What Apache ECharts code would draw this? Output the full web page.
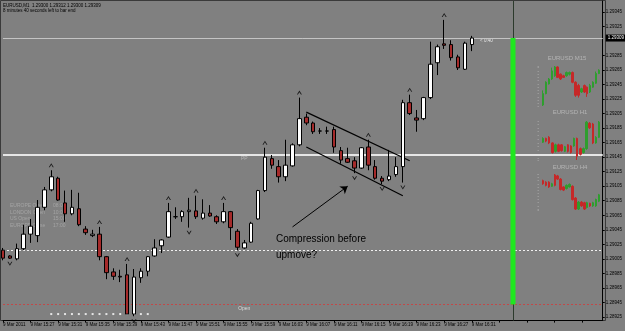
<!DOCTYPE html>
<html><head><meta charset="utf-8">
<script src="https://cdn.jsdelivr.net/npm/echarts@6/dist/echarts.min.js"></script>
<style>html,body{margin:0;padding:0;background:#808080}#c{width:625px;height:331px}</style>
</head><body><div id="c"></div>
<script>
// ---------- data ----------
const headerLine1 = 'EURUSD,M1  1.29300 1.29312 1.29300 1.29309';
const headerLine2 = '8 minutes 40 seconds left to bar end';
const timeTickLabels = ['9 Mar 2011','9 Mar 15:27','9 Mar 15:31','9 Mar 15:35','9 Mar 15:39','9 Mar 15:43','9 Mar 15:47','9 Mar 15:51','9 Mar 15:55','9 Mar 15:59','9 Mar 16:03','9 Mar 16:07','9 Mar 16:11','9 Mar 16:15','9 Mar 16:19','9 Mar 16:23','9 Mar 16:27','9 Mar 16:31'];
const slotCount = 88;
const yTickValues = [1.28925,1.28945,1.28965,1.28985,1.29005,1.29025,1.29045,1.29065,1.29085,1.29105,1.29125,1.29145,1.29165,1.29185,1.29205,1.29225,1.29245,1.29265,1.29285,1.29325,1.29345];
const opens  = [1.29017,1.29009,1.29005,1.29019,1.29039,1.29037,1.29076,1.29100,1.29116,1.29082,1.29067,1.29074,1.29046,1.29037,1.29039,1.29008,1.28987,1.28981,1.28983,1.28929,1.28979,1.28988,1.29009,1.29023,1.29035,1.29063,1.29063,1.29070,1.29071,1.29061,1.29068,1.29063,1.29056,1.29070,1.29043,1.29020,1.29028,1.29060,1.29099,1.29143,1.29132,1.29118,1.29133,1.29162,1.29200,1.29192,1.29181,1.29181,1.29183,1.29154,1.29143,1.29140,1.29130,1.29159,1.29132,1.29116,1.29114,1.29121,1.29132,1.29220,1.29199,1.29198,1.29227,1.29275,1.29301,1.29300,1.29283,1.29266,1.29300];
const closes = [1.29006,1.29006,1.29019,1.29039,1.29050,1.29076,1.29100,1.29118,1.29086,1.29067,1.29076,1.29052,1.29041,1.29039,1.29008,1.28986,1.28981,1.28980,1.28929,1.28980,1.28988,1.29008,1.29020,1.29031,1.29070,1.29063,1.29070,1.29072,1.29063,1.29068,1.29064,1.29056,1.29070,1.29048,1.29021,1.29027,1.29054,1.29099,1.29145,1.29134,1.29118,1.29134,1.29162,1.29198,1.29192,1.29180,1.29181,1.29181,1.29159,1.29141,1.29138,1.29130,1.29158,1.29134,1.29116,1.29112,1.29119,1.29132,1.29220,1.29205,1.29196,1.29227,1.29273,1.29297,1.29299,1.29282,1.29268,1.29302,1.29309];
const lows   = [1.29003,1.29005,1.29003,1.29017,1.29027,1.29028,1.29072,1.29098,1.29085,1.29056,1.29065,1.29050,1.29038,1.29035,1.29003,1.28977,1.28976,1.28973,1.28929,1.28926,1.28972,1.28981,1.29008,1.29013,1.29034,1.29060,1.29056,1.29048,1.29060,1.29059,1.29063,1.29053,1.29054,1.29031,1.29017,1.29019,1.29027,1.29059,1.29097,1.29129,1.29110,1.29112,1.29132,1.29160,1.29189,1.29177,1.29177,1.29177,1.29151,1.29136,1.29137,1.29123,1.29129,1.29127,1.29114,1.29108,1.29112,1.29118,1.29110,1.29203,1.29180,1.29196,1.29225,1.29258,1.29294,1.29278,1.29265,1.29265,1.29291];
const highs  = [1.29020,1.29010,1.29026,1.29052,1.29060,1.29086,1.29104,1.29127,1.29118,1.29099,1.29100,1.29096,1.29050,1.29045,1.29049,1.29009,1.28992,1.28990,1.28998,1.28991,1.28992,1.29009,1.29032,1.29032,1.29082,1.29076,1.29072,1.29089,1.29092,1.29087,1.29079,1.29065,1.29082,1.29071,1.29046,1.29031,1.29056,1.29100,1.29158,1.29148,1.29141,1.29169,1.29164,1.29227,1.29205,1.29194,1.29185,1.29187,1.29187,1.29159,1.29158,1.29145,1.29159,1.29169,1.29141,1.29119,1.29155,1.29145,1.29224,1.29231,1.29210,1.29228,1.29304,1.29300,1.29334,1.29306,1.29286,1.29304,1.29312];
const fractalUpIdx   = [7,14,18,24,28,32,38,43,53,59,64];
const fractalDownIdx = [1,19,27,34,51,55,58];
const bidPrice = 1.29309;
const pivotPrice = 1.29148;
const levelPrice = 1.29017;
const dayOpenPrice = 1.28942;
const dotsFrom = 7, dotsTo = 21, dotsPrice = 1.28929;
const rangeBarIdx = 74;
const channelUpper = [[44,1.29207],[59,1.29140]];
const channelLower = [[44,1.29159],[58,1.29092]];
const arrowLine = [[42,1.29049],[50,1.29105]];
const sessionNames = ['EUROPE Open','LONDON Open','US Open','EUROPE Close'];
const sessionTimes = ['08:00','10:00','15:00','17:00'];
// mini charts (relative units) [open, close, low, high]
const m15 = [[375,410,372,420],[410,445,408,448],[440,455,438,458],[455,480,452,490],[465,492,462,495],[492,460,458,494],[470,455,452,472],[465,460,458,468],[465,475,462,478],[470,475,466,478],[475,445,442,478],[445,405,400,448],[435,405,398,440],[415,425,412,428],[435,415,412,438],[430,410,400,432],[415,435,412,440],[430,445,428,448],[442,472,440,478],[472,482,470,485]];
const h1 = [[272,282,270,285],[282,275,272,284],[285,270,267,288],[270,245,242,272],[248,265,245,268],[265,248,246,268],[265,250,247,267],[248,260,246,262],[265,248,245,267],[262,245,242,264],[262,282,260,284],[282,235,225,284],[255,240,237,258],[245,255,242,258],[255,325,252,328],[322,310,307,325],[320,270,267,323],[270,285,268,288],[285,325,283,328]];
const h4 = [[150,140,137,153],[145,135,132,148],[145,130,127,148],[132,140,130,143],[168,135,132,171],[165,155,152,168],[155,122,119,158],[130,120,117,132],[125,135,122,138],[130,138,128,141],[132,90,87,135],[95,60,57,98],[60,82,57,85],[82,70,67,85],[80,60,57,83],[65,80,62,83],[78,70,67,80],[70,80,67,83],[70,90,67,93],[85,105,82,108]];

// ---------- build ----------
const Y_MIN = 1.28920, Y_MAX = 1.29360;
const categories = [];
for (let i = 0; i < slotCount; i++) categories.push(String(i));
const lastSlot = slotCount - 1;
const candles = opens.map((o, i) => [o, closes[i], lows[i], highs[i]]);
const upPts = fractalUpIdx.map(i => [i, highs[i]]);
const dnPts = fractalDownIdx.map(i => [i, lows[i]]);
const dots = [];
for (let i = dotsFrom; i <= dotsTo; i++) dots.push([i, dotsPrice]);
const rangeData = categories.map((c, i) => i === rangeBarIdx ? [dayOpenPrice, bidPrice, dayOpenPrice, bidPrice] : '-');
const FONT = 'Liberation Sans';
const chart = echarts.init(document.getElementById('c'), null, {renderer: 'canvas'});
function miniGrid(top, height) { return {left: 543, width: 56, top: top, height: height}; }
function miniX(idx, n) { return {type:'category', gridIndex: idx, data: Array.from({length:n}, (_, i) => i), boundaryGap: false, show: false}; }
function miniY(idx) {
  return {type:'value', gridIndex: idx, scale: true, min: 'dataMin', max: 'dataMax', show: true, position: 'left', offset: 4,
    splitNumber: 10, axisLine: {show: false}, axisLabel: {show: false}, splitLine: {show: false},
    axisTick: {show: true, length: 1.5, lineStyle: {color: '#9a9a9a', width: 1}}};
}
function miniSeries(idx, data) {
  return {type:'candlestick', xAxisIndex: idx, yAxisIndex: idx, data: data, barWidth: 2, silent: true,
    itemStyle: {color:'#2e9e2e', color0:'#c62828', borderColor:'#2e9e2e', borderColor0:'#c62828', borderWidth: 1}};
}
function hLine(price, style, label) {
  return [{coord: [0, price], lineStyle: style, label: label || {show: false}}, {coord: [lastSlot, price]}];
}
const upSym = 'path://M0,8 L4,0 L8,8 L6.4,8 L4,3.2 L1.6,8 Z';
const dnSym = 'path://M0,0 L4,8 L8,0 L6.4,0 L4,4.8 L1.6,0 Z';
const option = {
  animation: false,
  backgroundColor: '#808080',
  textStyle: {fontFamily: FONT},
  grid: [
    {left: 2, right: 20, top: 1, bottom: 10.4},
    miniGrid(66, 40), miniGrid(121, 39), miniGrid(174, 36)
  ],
  xAxis: [
    {type: 'category', data: categories, boundaryGap: false,
     axisLine: {lineStyle: {color: '#000', width: 1}},
     axisTick: {interval: 3, length: 2, lineStyle: {color: '#000'}},
     axisLabel: {interval: 3, align: 'left', fontSize: 4.5, color: '#000', margin: 2, fontFamily: FONT,
       formatter: (v, idx) => timeTickLabels[idx / 4] || ''},
     splitLine: {show: false}},
    miniX(1, m15.length), miniX(2, h1.length), miniX(3, h4.length)
  ],
  yAxis: [
    {type: 'value', position: 'right', min: Y_MIN, max: Y_MAX,
     axisLine: {show: true, lineStyle: {color: '#000'}},
     axisTick: {show: true, length: 2, customValues: yTickValues, lineStyle: {color: '#000'}},
     axisLabel: {customValues: yTickValues, fontSize: 4.5, color: '#000', margin: 3, fontFamily: FONT,
       formatter: v => v.toFixed(5)},
     splitLine: {show: false}},
    miniY(1), miniY(2), miniY(3)
  ],
  series: [
    {type: 'candlestick', name: 'range', data: rangeData, barWidth: 5, silent: true, z: 3,
     itemStyle: {color: '#1fe81f', color0: '#1fe81f', borderColor: '#1fe81f', borderColor0: '#1fe81f', borderWidth: 0},
     markLine: {silent: true, symbol: 'none', label: {show: false}, z: 2,
       data: [[{coord: [rangeBarIdx, Y_MIN], lineStyle: {color: '#2c3a2c', width: 1, type: 'solid'}}, {coord: [rangeBarIdx, Y_MAX]}]]}},
    {type: 'candlestick', name: 'EURUSD', data: candles, barWidth: 4, z: 4, clip: true,
     itemStyle: {color: '#ffffff', color0: '#a52a2a', borderColor: '#000', borderColor0: '#000', borderColorDoji: '#000', borderWidth: 1},
     markLine: {silent: true, symbol: 'none', z: 1, animation: false,
       data: [
         hLine(bidPrice, {color: '#c4c4c4', width: 1, type: 'solid'},
           {show: true, position: 'end', distance: 3, formatter: bidPrice.toFixed(5), backgroundColor: '#000', color: '#fff', fontSize: 4.5, padding: [1, 2], fontFamily: FONT}),
         hLine(pivotPrice, {color: '#e6e6e6', width: 2, type: 'solid'}),
         hLine(levelPrice, {color: '#f0f0f0', width: 1, type: [2, 2]}),
         hLine(dayOpenPrice, {color: '#c24848', width: 1, type: [2, 2]}),
         [{coord: channelUpper[0], lineStyle: {color: '#000', width: 1.2, type: 'solid'}, label: {show: false}}, {coord: channelUpper[1]}],
         [{coord: channelLower[0], lineStyle: {color: '#000', width: 1.2, type: 'solid'}, label: {show: false}}, {coord: channelLower[1]}],
         [{coord: arrowLine[0], symbol: 'none', lineStyle: {color: '#000', width: 1, type: 'solid'}, label: {show: false}}, {coord: arrowLine[1], symbol: 'arrow', symbolSize: 7}]
       ]},
     markPoint: {silent: true, symbol: 'rect', symbolSize: 0,
       data: [
         {coord: [35, pivotPrice], label: {show: true, formatter: 'PP', color: '#b8b8b8', fontSize: 5, position: 'bottom', distance: 1, fontFamily: FONT}},
         {coord: [35, dayOpenPrice], label: {show: true, formatter: 'Open', color: '#d8d8d8', fontSize: 5, position: 'bottom', distance: 2, fontFamily: FONT}}
       ]}},
    {type: 'scatter', name: 'fractalUp', data: upPts, symbol: upSym, symbolSize: [5, 4], symbolOffset: [0, -5],
     itemStyle: {color: '#000'}, silent: true, z: 5},
    {type: 'scatter', name: 'fractalDown', data: dnPts, symbol: dnSym, symbolSize: [5, 4], symbolOffset: [0, 5],
     itemStyle: {color: '#000'}, silent: true, z: 5},
    {type: 'scatter', name: 'dots', data: dots, symbol: 'rect', symbolSize: [2, 2],
     itemStyle: {color: '#ffffff'}, silent: true, z: 3},
    miniSeries(1, m15), miniSeries(2, h1), miniSeries(3, h4)
  ],
  graphic: [
    {type: 'rect', shape: {x: 0.5, y: 0.5, width: 605, height: 320}, style: {fill: 'none', stroke: '#3a3a3a', lineWidth: 1}, silent: true, z: 0},
    {type: 'text', x: 3, y: 3, style: {text: headerLine1, fill: '#000', font: '4.5px ' + FONT}},
    {type: 'text', x: 3, y: 8, style: {text: headerLine2, fill: '#000', font: '4.5px ' + FONT}},
    {type: 'text', x: 10, y: 202, style: {text: sessionNames.join('\n'), fill: '#a4a4a4', font: '5px ' + FONT, lineHeight: 6.8}},
    {type: 'text', x: 53, y: 202, style: {text: sessionTimes.join('\n'), fill: '#a4a4a4', font: '5px ' + FONT, lineHeight: 6.8}},
    {type: 'text', x: 276, y: 231, style: {text: 'Compression before\nupmove?', fill: '#000', font: '10px ' + FONT, lineHeight: 16}},
    {type: 'text', x: 480, y: 38.5, style: {text: '< 0:40', fill: '#e8e8e8', font: '4.5px ' + FONT}},
    {type: 'text', x: 567, y: 55, style: {text: 'EURUSD M15', fill: '#b4b4b4', font: '6px ' + FONT, align: 'center'}},
    {type: 'text', x: 570, y: 109, style: {text: 'EURUSD H1', fill: '#b4b4b4', font: '6px ' + FONT, align: 'center'}},
    {type: 'text', x: 570, y: 164, style: {text: 'EURUSD H4', fill: '#b4b4b4', font: '6px ' + FONT, align: 'center'}}
  ]
};
chart.setOption(option);
</script></body></html>
